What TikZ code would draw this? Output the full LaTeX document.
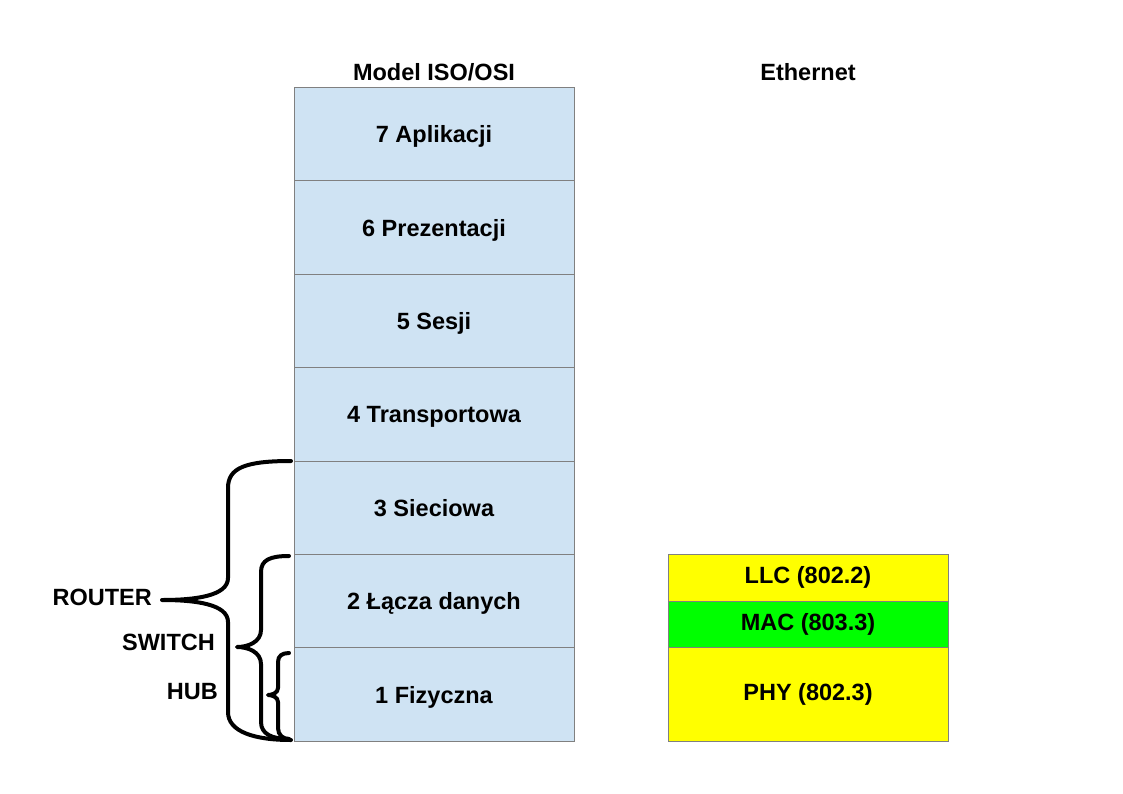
\documentclass[tikz,border=0pt]{standalone}
\usepackage{fontspec}
\setmainfont{Liberation Sans}
\definecolor{osiblue}{RGB}{207,227,243}
\definecolor{ethyellow}{RGB}{255,255,0}
\definecolor{ethgreen}{RGB}{0,255,0}
\definecolor{edgegray}{RGB}{128,128,128}
\tikzset{
  txt/.style={font=\fontsize{23.5}{28}\selectfont\bfseries},
  layer/.style={txt, draw=edgegray, line width=1pt, fill=osiblue, minimum width=280pt, inner sep=0pt, text depth=0pt, yshift=0pt},
  ethlayer/.style={txt, draw=edgegray, line width=1pt, minimum width=280pt, inner sep=0pt},
  title/.style={txt, inner sep=0pt},
  devlabel/.style={txt, inner sep=0pt, anchor=east},
  brace/.style={line width=4pt, line cap=round, line join=round}
}
\begin{document}
\begin{tikzpicture}[x=1pt,y=-1pt]
\useasboundingbox (0,0) rectangle (1123,794);
% OSI layers
\node[layer, minimum height=93.4pt] (l7) at (434,134.2) {7 Aplikacji};
\node[layer, minimum height=93.4pt] (l6) at (434,227.6) {6 Prezentacji};
\node[layer, minimum height=93.4pt] (l5) at (434,321.0) {5 Sesji};
\node[layer, minimum height=93.4pt] (l4) at (434,414.4) {4 Transportowa};
\node[layer, minimum height=93.4pt] (l3) at (434,507.8) {3 Sieciowa};
\node[layer, minimum height=93.4pt] (l2) at (434,601.2) {2 Łącza danych};
\node[layer, minimum height=93.4pt] (l1) at (434,694.6) {1 Fizyczna};
% Ethernet
\node[ethlayer, fill=ethyellow, minimum height=46.7pt] (llc) at (808,577.8) {LLC (802.2)};
\node[ethlayer, fill=ethgreen, minimum height=46.7pt] (mac) at (808,624.5) {MAC (803.3)};
\node[ethlayer, fill=ethyellow, minimum height=93.4pt] (phy) at (808,694.6) {PHY (802.3)};
% titles
\node[title] (tosi) at (434,72) {Model ISO/OSI};
\node[title] (teth) at (808,72) {Ethernet};
% device labels
\node[devlabel] (router) at (152,597) {ROUTER};
\node[devlabel] (switch) at (215,642) {SWITCH};
\node[devlabel] (hub) at (218,692) {HUB};
% brace tips
\coordinate (rt) at (291,461);
\coordinate (rb) at (291,740);
\coordinate (rp) at (162,600);
\coordinate (st) at (289,556);
\coordinate (sb) at (289,739);
\coordinate (sp) at (237,647);
\coordinate (ht) at (289,653);
\coordinate (hb) at (289,739);
\coordinate (hp) at (268,695);
% router brace
\draw[brace] (rt) .. controls (245,461) and (228,468) .. (228,488) -- (228,578)
  .. controls (228,596) and (195,600) .. (rp)
  .. controls (195,600) and (228,604) .. (228,622) -- (228,712)
  .. controls (228,732) and (255,740) .. (rb);
% switch brace
\draw[brace] (st) .. controls (270,556) and (261,560) .. (261,572) -- (261,630)
  .. controls (261,642) and (248,647) .. (sp)
  .. controls (248,647) and (261,652) .. (261,664) -- (261,722)
  .. controls (261,734) and (272,739) .. (sb);
% hub brace
\draw[brace] (ht) .. controls (282,653) and (278,656) .. (278,662) -- (278,688)
  .. controls (278,693) and (272,695) .. (hp)
  .. controls (272,695) and (278,697) .. (278,702) -- (278,728)
  .. controls (278,735) and (283,739) .. (hb);
\end{tikzpicture}
\end{document}
